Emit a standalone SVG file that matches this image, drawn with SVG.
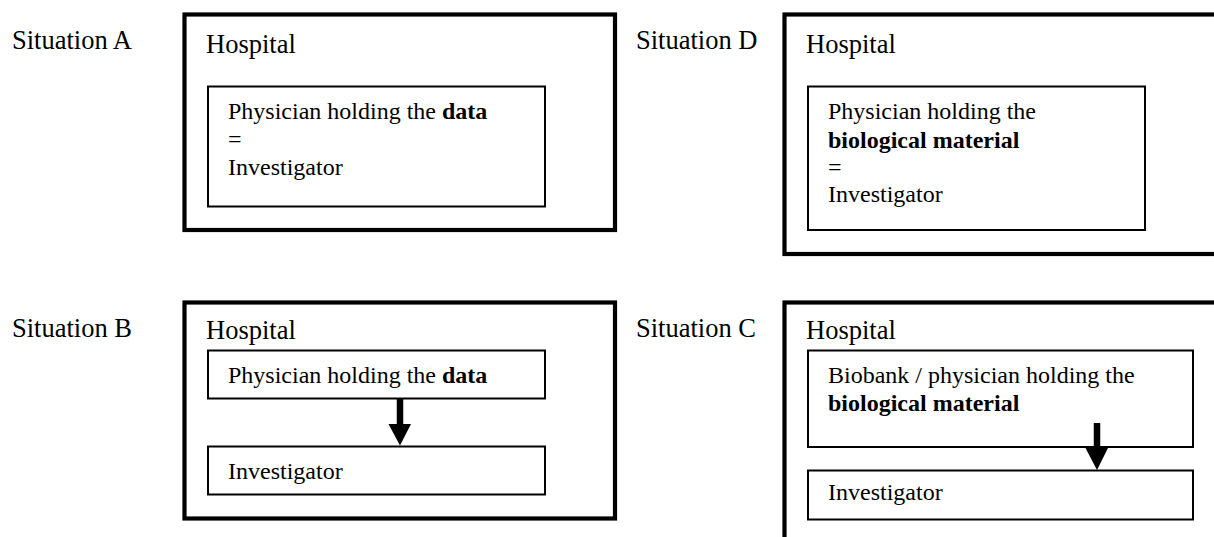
<svg xmlns="http://www.w3.org/2000/svg" width="1214" height="537" viewBox="0 0 1214 537">
<style>
text{font-family:"Liberation Serif","Times New Roman",serif;fill:#000}
.lbl{font-size:26.5px}
.in{font-size:24px}
.b{font-weight:bold}
.outer{fill:none;stroke:#000;stroke-width:4.2}
.inner{fill:#fff;stroke:#000;stroke-width:2}
.shaft{stroke:#000;stroke-width:6.5;fill:none}
.head{fill:#000}
</style>
<rect width="1214" height="537" fill="#fff"/>
<g id="labels">
<text class="lbl" x="12" y="49">Situation A</text>
<text class="lbl" x="636" y="49">Situation D</text>
<text class="lbl" x="12" y="337">Situation B</text>
<text class="lbl" x="636" y="337">Situation C</text>
</g>
<g id="hospitalA">
<rect class="outer" x="184.5" y="14.5" width="430.5" height="215.5"/>
<text class="lbl" x="206" y="53">Hospital</text>
</g>
<g id="nodeA">
<rect class="inner" x="208" y="86.5" width="337" height="120"/>
<text class="in" x="228" y="119">Physician holding the <tspan class="b">data</tspan></text>
<text class="in" x="228" y="147">=</text>
<text class="in" x="228" y="175">Investigator</text>
</g>
<g id="hospitalD">
<rect class="outer" x="784.5" y="14.5" width="450" height="239.5"/>
<text class="lbl" x="806" y="53">Hospital</text>
</g>
<g id="nodeD">
<rect class="inner" x="808" y="86.5" width="337" height="143.5"/>
<text class="in" x="828" y="119">Physician holding the</text>
<text class="in b" x="828" y="147.5">biological material</text>
<text class="in" x="828" y="175">=</text>
<text class="in" x="828" y="202">Investigator</text>
</g>
<g id="hospitalB">
<rect class="outer" x="184.5" y="302.5" width="430.5" height="216"/>
<text class="lbl" x="206" y="339">Hospital</text>
</g>
<g id="nodeB1">
<rect class="inner" x="208" y="350.5" width="337" height="48"/>
<text class="in" x="228" y="382.5">Physician holding the <tspan class="b">data</tspan></text>
</g>
<g id="nodeB2">
<rect class="inner" x="208" y="446.5" width="337" height="48"/>
<text class="in" x="228" y="479">Investigator</text>
</g>
<g id="hospitalC">
<rect class="outer" x="784.5" y="302.5" width="450" height="260"/>
<text class="lbl" x="806" y="339">Hospital</text>
</g>
<g id="nodeC1">
<rect class="inner" x="808" y="350.5" width="385" height="96.5"/>
<text class="in" x="828" y="382.5">Biobank / physician holding the</text>
<text class="in b" x="828" y="410.5">biological material</text>
</g>
<g id="nodeC2">
<rect class="inner" x="808" y="470.5" width="385" height="49"/>
<text class="in" x="828" y="500">Investigator</text>
</g>
<g id="connectors">
<line class="shaft" x1="400" y1="399" x2="400" y2="425"/>
<polygon class="head" points="388.5,424 411,424 400,445.5"/>
<line class="shaft" x1="1097" y1="423" x2="1097" y2="449"/>
<polygon class="head" points="1085.5,448 1108,448 1097,470"/>
</g>
</svg>
